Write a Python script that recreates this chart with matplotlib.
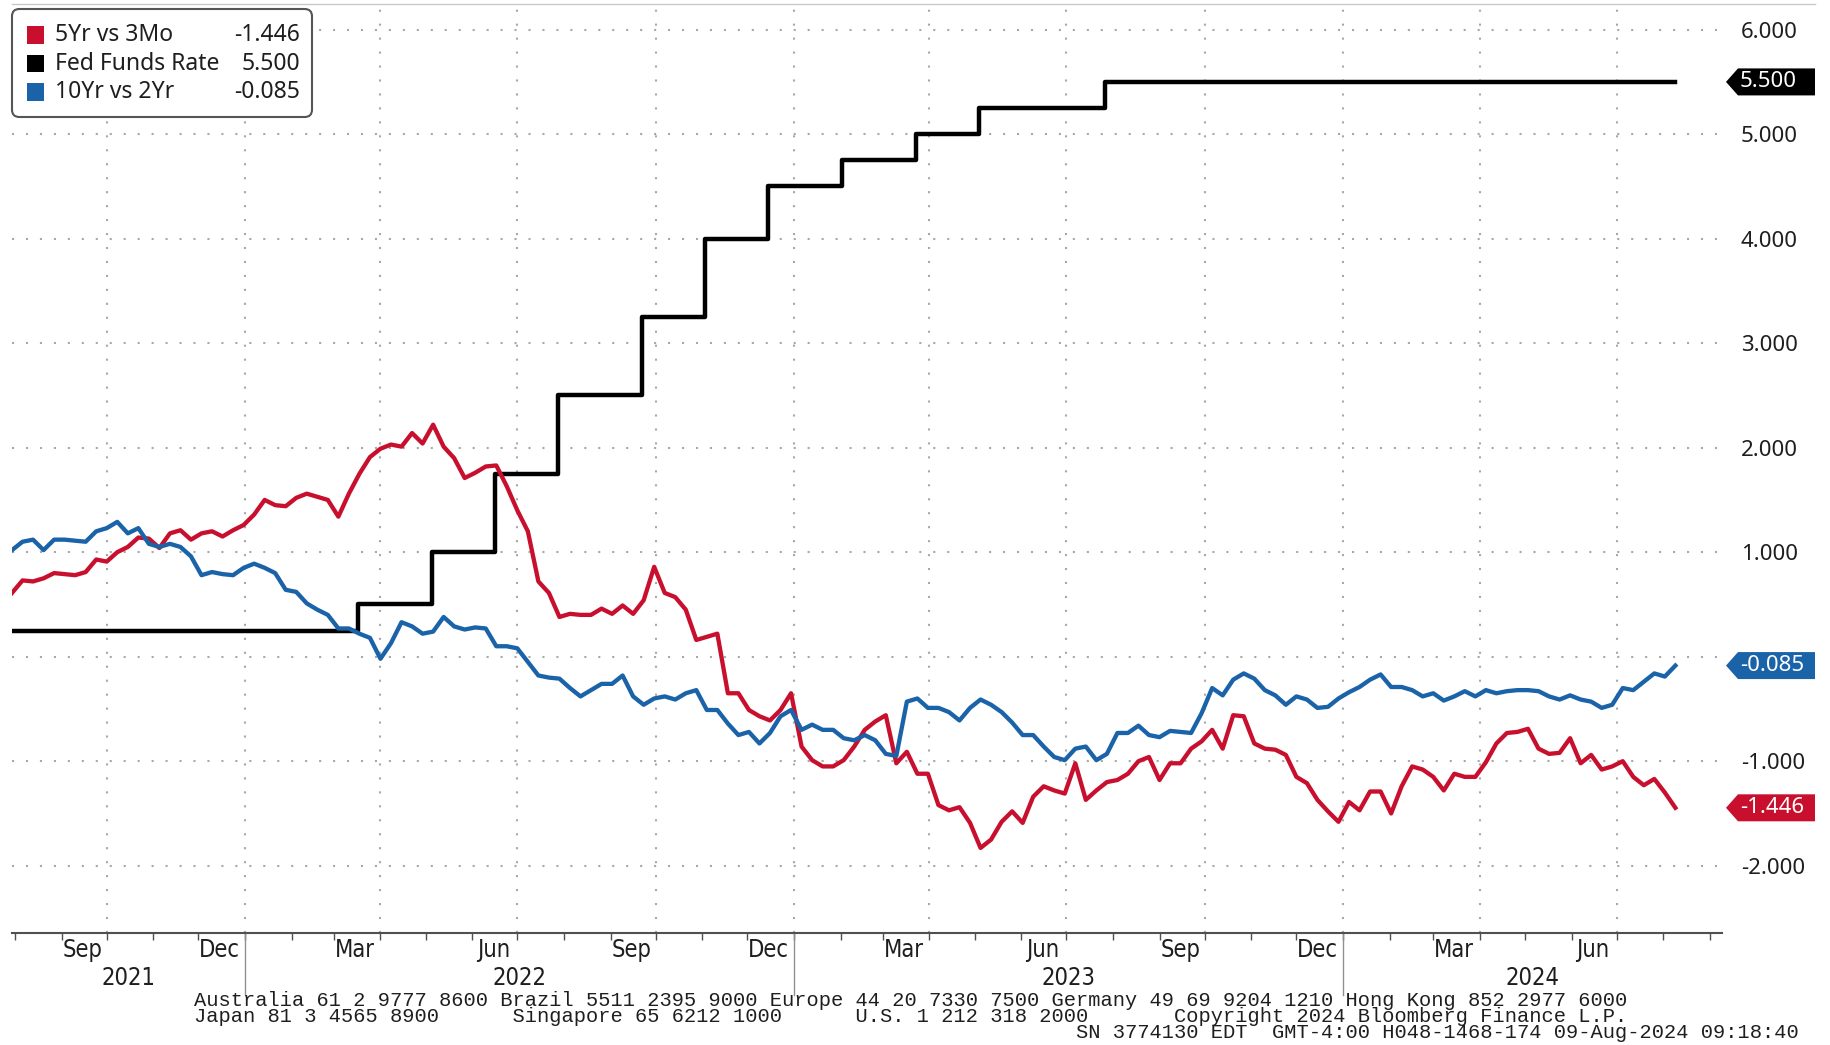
import numpy as np
import pandas as pd
import matplotlib
matplotlib.use('Agg')
import matplotlib.pyplot as plt
import matplotlib.dates as mdates
import matplotlib.patches as patches
import matplotlib.transforms as mtrans
from matplotlib.lines import Line2D

plt.rcParams['font.family'] = ['Noto Sans', 'DejaVu Sans']

# weekly (friday) readings off the bloomberg screen
weeks = pd.date_range('2021-07-30', '2024-08-09', freq='W-FRI')

spread_5y3m = [
    0.61, 0.73, 0.72, 0.75, 0.80, 0.79, 0.78, 0.81, 0.93, 0.91,
    1.00, 1.05, 1.14, 1.13, 1.04, 1.18, 1.21, 1.12, 1.18, 1.20,
    1.15, 1.21, 1.26, 1.36, 1.50, 1.45, 1.44, 1.52, 1.56, 1.53,
    1.50, 1.34, 1.56, 1.75, 1.91, 1.99, 2.03, 2.01, 2.14, 2.04,
    2.22, 2.01, 1.90, 1.71, 1.76, 1.82, 1.83, 1.63, 1.40, 1.20,
    0.72, 0.61, 0.38, 0.41, 0.40, 0.40, 0.46, 0.41, 0.49, 0.41,
    0.54, 0.86, 0.61, 0.57, 0.45, 0.16, 0.19, 0.22, -0.35, -0.35,
    -0.51, -0.57, -0.61, -0.51, -0.35, -0.86, -0.99, -1.05, -1.05, -0.99,
    -0.86, -0.70, -0.62, -0.56, -1.02, -0.91, -1.12, -1.12, -1.42, -1.47,
    -1.44, -1.59, -1.83, -1.75, -1.58, -1.48, -1.59, -1.34, -1.24, -1.28,
    -1.31, -1.02, -1.37, -1.28, -1.20, -1.18, -1.12, -1.00, -0.96, -1.18,
    -1.02, -1.02, -0.88, -0.81, -0.70, -0.88, -0.56, -0.57, -0.83, -0.88,
    -0.89, -0.94, -1.15, -1.21, -1.37, -1.48, -1.58, -1.39, -1.47, -1.29,
    -1.29, -1.50, -1.24, -1.05, -1.08, -1.15, -1.28, -1.12, -1.15, -1.15,
    -1.01, -0.83, -0.73, -0.72, -0.69, -0.88, -0.93, -0.92, -0.78, -1.02,
    -0.94, -1.08, -1.05, -1.00, -1.15, -1.23, -1.17, -1.30, -1.446]

spread_10y2y = [
    1.02, 1.10, 1.12, 1.02, 1.12, 1.12, 1.11, 1.10, 1.20, 1.23,
    1.29, 1.18, 1.23, 1.08, 1.05, 1.08, 1.05, 0.96, 0.78, 0.81,
    0.79, 0.78, 0.85, 0.89, 0.85, 0.80, 0.64, 0.62, 0.51, 0.45,
    0.40, 0.27, 0.27, 0.22, 0.18, -0.02, 0.13, 0.33, 0.29, 0.22,
    0.24, 0.38, 0.29, 0.26, 0.28, 0.27, 0.10, 0.10, 0.08, -0.05,
    -0.18, -0.20, -0.21, -0.30, -0.38, -0.32, -0.26, -0.26, -0.18, -0.38,
    -0.46, -0.40, -0.38, -0.41, -0.35, -0.32, -0.51, -0.51, -0.64, -0.75,
    -0.72, -0.83, -0.73, -0.57, -0.51, -0.70, -0.65, -0.70, -0.70, -0.78,
    -0.80, -0.75, -0.80, -0.93, -0.95, -0.43, -0.40, -0.49, -0.49, -0.53,
    -0.61, -0.49, -0.41, -0.46, -0.53, -0.63, -0.75, -0.75, -0.86, -0.96,
    -0.99, -0.88, -0.86, -0.99, -0.93, -0.73, -0.73, -0.66, -0.75, -0.77,
    -0.71, -0.72, -0.73, -0.54, -0.30, -0.37, -0.22, -0.16, -0.21, -0.32,
    -0.37, -0.46, -0.38, -0.41, -0.49, -0.48, -0.40, -0.34, -0.29, -0.22,
    -0.17, -0.29, -0.29, -0.32, -0.38, -0.35, -0.42, -0.38, -0.33, -0.38,
    -0.32, -0.35, -0.33, -0.32, -0.32, -0.33, -0.38, -0.41, -0.37, -0.41,
    -0.43, -0.49, -0.46, -0.30, -0.32, -0.24, -0.16, -0.19, -0.085]

# fed funds target (upper bound), changes on the day after the meeting
fed_dates = pd.to_datetime(['2021-07-30', '2022-03-17', '2022-05-05', '2022-06-16',
                            '2022-07-28', '2022-09-22', '2022-11-03', '2022-12-15',
                            '2023-02-02', '2023-03-23', '2023-05-04', '2023-07-27',
                            '2024-08-09'])
fed_rate = [0.25, 0.50, 1.00, 1.75, 2.50, 3.25, 4.00, 4.50, 4.75, 5.00, 5.25, 5.50, 5.50]

legend_names = ['5Yr vs 3Mo', 'Fed Funds Rate', '10Yr vs 2Yr']
legend_values = ['-1.446', '5.500', '-0.085']
last_values = [-1.446, 5.500, -0.085]

month_labels = ['Sep', 'Dec', 'Mar', 'Jun', 'Sep', 'Dec', 'Mar', 'Jun', 'Sep', 'Dec', 'Mar', 'Jun']
years = [2021, 2022, 2023, 2024]

footer = [
    'Australia 61 2 9777 8600 Brazil 5511 2395 9000 Europe 44 20 7330 7500 Germany 49 69 9204 1210 Hong Kong 852 2977 6000',
    'Japan 81 3 4565 8900      Singapore 65 6212 1000      U.S. 1 212 318 2000       Copyright 2024 Bloomberg Finance L.P.',
    'SN 3774130 EDT  GMT-4:00 H048-1468-174 09-Aug-2024 09:18:40']

red = '#C8102E'
blue = '#1B63A9'
grid_c = '#A8A8A8'
txt_c = '#1E1E1E'
colors = [red, 'black', blue]
narrow = dict(family=['DejaVu Sans'], stretch='condensed')

W, H = 1831, 1045
px = lambda x: x / W
py = lambda y: 1 - y / H

x0, x1 = pd.Timestamp('2021-07-30'), pd.Timestamp('2024-09-09')

fig = plt.figure(figsize=(W / 100, H / 100), dpi=100)
ax = fig.add_axes([px(12), py(933), px(1722) - px(12), py(5) - py(933)])

ax.step(fed_dates, fed_rate, where='post', c='black', lw=3.2, zorder=3)
ax.plot(weeks, spread_5y3m, c=red, lw=3.1, zorder=4)
ax.plot(weeks, spread_10y2y, c=blue, lw=3.1, zorder=5)

# dotted grid
for v in range(-2, 7):
    ax.axhline(v, color=grid_c, lw=1.5, ls=(0, (1, 5.7)), zorder=1)
for d in pd.date_range('2021-10-01', '2024-07-01', freq='QS'):
    ax.axvline(d, color=grid_c, lw=1.5, ls=(0, (1, 5.7)), zorder=1)

ax.set_xlim(x0, x1)
ax.set_ylim(-2.644, 6.236)

ax.yaxis.tick_right()
ax.set_yticks(range(-2, 7))
ax.set_yticklabels(['' if v == 0 else '{:.3f}'.format(v) for v in range(-2, 7)])
ax.tick_params(axis='y', length=0, pad=13.5, labelsize=16, labelcolor=txt_c)

ax.xaxis.set_major_locator(mdates.MonthLocator())
ax.xaxis.set_major_formatter(plt.NullFormatter())
ax.tick_params(axis='x', length=5, width=1, color='#505050', direction='out')

for s in ['left', 'right', 'top']:
    ax.spines[s].set_visible(False)
ax.spines['bottom'].set_color('#505050')
ax.spines['bottom'].set_linewidth(1.5)
fig.add_artist(Line2D([px(12), px(1815)], [py(4), py(4)], color='#C8C8C8', lw=1))

# month / year labels under the axis
trans = mtrans.blended_transform_factory(ax.transData, fig.transFigure)
month_pos = pd.date_range('2021-09-01', '2024-06-01', freq='3MS') + pd.Timedelta(days=14)
for d, lab in zip(month_pos, month_labels):
    ax.text(mdates.date2num(d), py(950), lab, transform=trans, ha='center', va='center',
            fontsize=17, color=txt_c, **narrow)
for yr in years:
    lo = max(x0, pd.Timestamp(yr, 1, 1))
    hi = min(x1, pd.Timestamp(yr + 1, 1, 1))
    ax.text(mdates.date2num(lo + (hi - lo) / 2), py(978), str(yr), transform=trans,
            ha='center', va='center', fontsize=17, color=txt_c, **narrow)
    if yr > 2021:
        d = mdates.date2num(pd.Timestamp(yr, 1, 1))
        ax.plot([d, d], [py(934), py(995)], transform=trans, clip_on=False, c='#909090', lw=1)

# last value tags on the right
tf = mtrans.blended_transform_factory(fig.transFigure, ax.transData)
ht = 13.5 / 104.5
for v, lab, c in zip(last_values, legend_values, colors):
    pts = [(px(1726), v), (px(1738), v + ht), (px(1815), v + ht), (px(1815), v - ht), (px(1738), v - ht)]
    fig.add_artist(patches.Polygon(pts, closed=True, fc=c, ec='none', transform=tf, zorder=6))
    fig.text(px(1740), v, lab, transform=tf, color='white', fontsize=16, ha='left', va='center', zorder=7)

# legend box
box = patches.FancyBboxPatch((px(12), py(117)), px(312) - px(12), py(9) - py(117),
                             boxstyle='round,pad=0,rounding_size=0.004', mutation_aspect=W / H,
                             fc='white', ec='#555555', lw=1.5, transform=fig.transFigure, zorder=8)
fig.add_artist(box)
for i, (name, val, c) in enumerate(zip(legend_names, legend_values, colors)):
    yc = 35 + i * 28.5
    fig.add_artist(patches.Rectangle((px(27), py(yc + 8.5)), px(17), 17 / H, fc=c, ec='none',
                                     transform=fig.transFigure, zorder=9))
    fig.text(px(55), py(yc), name, fontsize=16.5, color=txt_c, va='center', ha='left', zorder=9)
    fig.text(px(300), py(yc), val, fontsize=16.5, color=txt_c, va='center', ha='right', zorder=9)

# bloomberg footer
for i, line in enumerate(footer):
    xs = 194 if i < 2 else 1076
    fig.text(px(xs), py(1000 + 16.5 * i), line, family='Liberation Mono', fontsize=14.7,
             color=txt_c, va='center')

fig.savefig('out.png', dpi=100)
